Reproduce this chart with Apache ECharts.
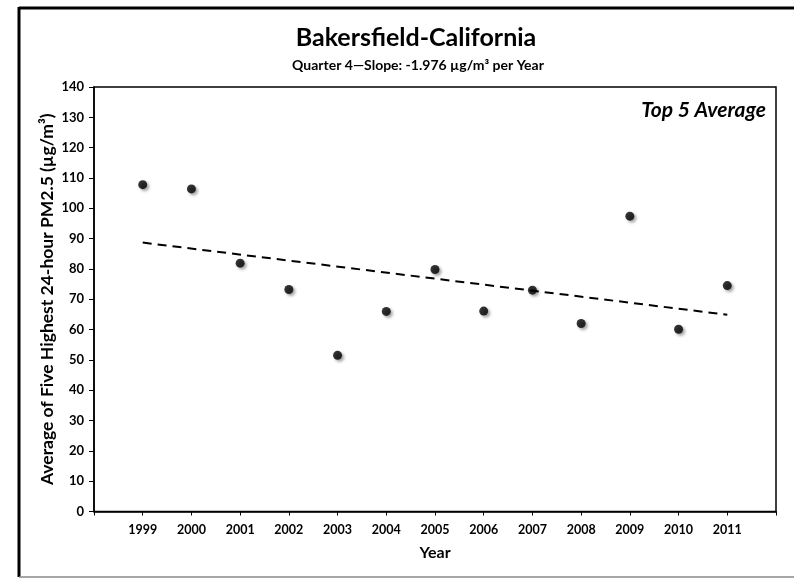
<!DOCTYPE html>
<html>
<head>
<meta charset="utf-8">
<script src="https://cdn.jsdelivr.net/npm/echarts@6/dist/echarts.min.js"></script>
<style>html,body{margin:0;padding:0;background:#fff;}#c{width:794px;height:578px;}</style>
</head>
<body>
<div id="c"></div>
<script>
var years = [1999, 2000, 2001, 2002, 2003, 2004, 2005, 2006, 2007, 2008, 2009, 2010, 2011];
var values = [107.8, 106.4, 81.9, 73.2, 51.5, 66.0, 79.8, 66.1, 73.0, 62.0, 97.4, 60.1, 74.5];
var trendYears = [1999, 2011];
var trendValues = [88.7, 64.9];
var yTicks = [0, 10, 20, 30, 40, 50, 60, 70, 80, 90, 100, 110, 120, 130, 140];

var FONT = 'Lato, "Open Sans", sans-serif';
var chart = echarts.init(document.getElementById('c'), null, {renderer: 'canvas'});
chart.setOption({
  backgroundColor: '#fff',
  animation: false,
  title: [
    {text: 'Bakersfield-California', left: 411, top: 20, textAlign: 'center',
     textStyle: {fontFamily: FONT, fontWeight: 'bold', fontSize: 25, color: '#000'}},
    {text: 'Quarter 4\u2014Slope: -1.976 \u00b5g/m\u00b3 per Year', left: 413, top: 53, textAlign: 'center',
     textStyle: {fontFamily: FONT, fontWeight: 'bold', fontSize: 14, color: '#000'}}
  ],
  grid: {left: 94, right: 18, top: 87, bottom: 66.5, show: true, borderColor: '#000', borderWidth: 1.5, containLabel: false},
  xAxis: {
    type: 'value', min: 1998, max: 2012, interval: 1,
    name: 'Year', nameLocation: 'middle', nameGap: 33, nameMoveOverlap: false,
    nameTextStyle: {fontFamily: FONT, fontWeight: 'bold', fontSize: 16, color: '#000'},
    axisLine: {show: true, lineStyle: {color: '#000', width: 1.5}},
    axisTick: {show: true, length: 4, lineStyle: {color: '#000'}},
    splitLine: {show: false},
    axisLabel: {fontFamily: FONT, fontWeight: 'bold', fontSize: 12.5, color: '#000', margin: 12,
      formatter: function (v) { return years.indexOf(v) >= 0 ? String(v) : ''; }}
  },
  yAxis: {
    type: 'value', min: 0, max: 140, interval: 10,
    name: 'Average of Five Highest 24-hour PM2.5 (\u00b5g/m\u00b3)', nameLocation: 'middle', nameGap: 38, nameMoveOverlap: false,
    nameTextStyle: {fontFamily: FONT, fontWeight: 'bold', fontSize: 17.5, color: '#000'},
    axisLine: {show: true, lineStyle: {color: '#000', width: 1.5}},
    axisTick: {show: true, length: 5, lineStyle: {color: '#000'}},
    splitLine: {show: false},
    axisLabel: {fontFamily: FONT, fontWeight: 'bold', fontSize: 13, color: '#000', margin: 10,
      formatter: function (v) { return yTicks.indexOf(v) >= 0 ? String(v) : ''; }}
  },
  series: [
    {type: 'line', data: trendYears.map(function (y, i) { return [y, trendValues[i]]; }),
     symbol: 'none', lineStyle: {color: '#000', width: 2, type: [9, 6]}, z: 2, silent: true},
    {type: 'scatter', data: years.map(function (y, i) { return [y, values[i]]; }),
     symbol: 'circle', symbolSize: 9,
     itemStyle: {color: '#000', shadowBlur: 3, shadowColor: 'rgba(0,0,0,0.45)', shadowOffsetX: 2, shadowOffsetY: 2}, z: 3}
  ],
  graphic: [
    {type: 'text', right: 28, top: 100,
     style: {text: 'Top 5 Average', fontFamily: FONT, fontWeight: 'bold', fontStyle: 'italic', fontSize: 21, fill: '#000', letterSpacing: 0.8}},
    {type: 'line', shape: {x1: 19, y1: 8, x2: 794, y2: 8}, style: {stroke: '#000', lineWidth: 3}},
    {type: 'line', shape: {x1: 19, y1: 7, x2: 19, y2: 577}, style: {stroke: '#000', lineWidth: 3}},
    {type: 'line', shape: {x1: 19, y1: 577, x2: 794, y2: 577}, style: {stroke: '#888', lineWidth: 1.5}}
  ]
});
</script>
</body>
</html>
